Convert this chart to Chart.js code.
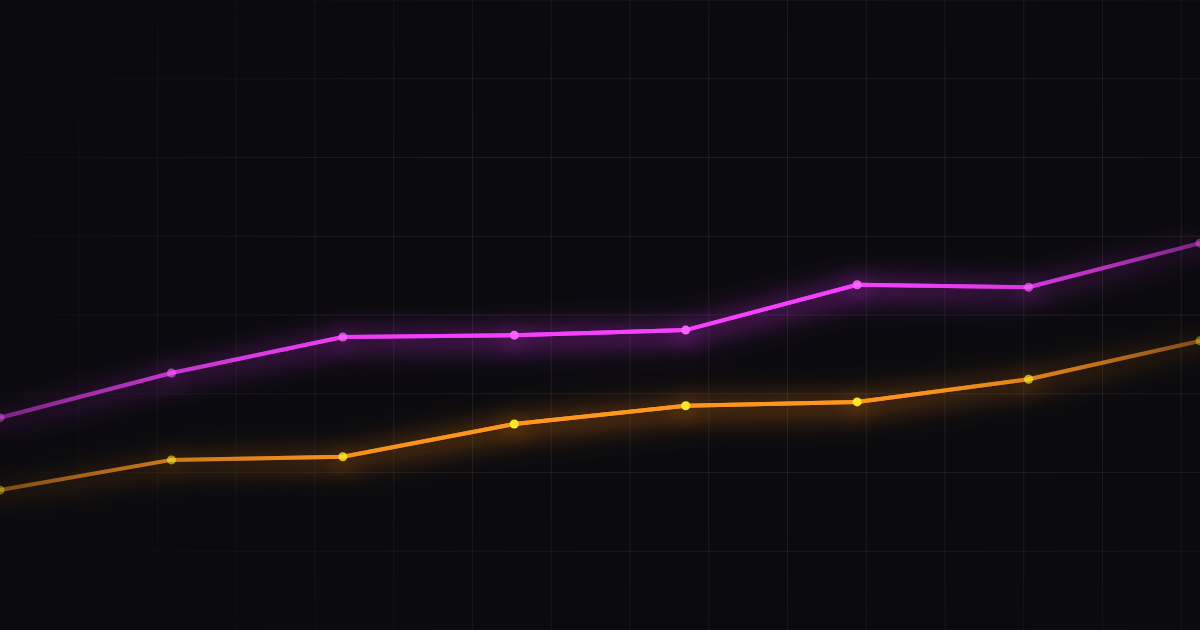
<!DOCTYPE html>
<html>
<head>
<meta charset="utf-8">
<script src="https://cdn.jsdelivr.net/npm/chart.js@4.4.1/dist/chart.umd.min.js"></script>
<style>
  html, body { margin: 0; padding: 0; background: #0b0b0f; width: 1200px; height: 630px; overflow: hidden; }
  #grid {
    position: absolute; left: 0; top: 0; width: 1200px; height: 630px;
    background-image:
      linear-gradient(to right, rgba(255,255,255,0.075) 1px, transparent 1px),
      linear-gradient(to bottom, rgba(255,255,255,0.075) 1px, transparent 1px);
    background-size: 78.75px 78.75px;
    background-position: -0.5px -0.5px;
    -webkit-mask-image: radial-gradient(ellipse 75% 85% at 65% 45%, #000 45%, transparent 100%);
    mask-image: radial-gradient(ellipse 75% 85% at 65% 45%, #000 45%, transparent 100%);
  }
  #wrap { position: absolute; left: 0; top: 0; width: 1200px; height: 630px; }
</style>
</head>
<body>
<div id="grid"></div>
<div id="wrap"><canvas id="c" width="1200" height="630"></canvas></div>
<script>
const categories = ["P1", "P2", "P3", "P4", "P5", "P6", "P7", "P8"];
const seriesMagenta = [33.7, 40.8, 46.5, 46.8, 47.6, 54.8, 54.4, 61.4];
const seriesOrange  = [22.2, 27.0, 27.5, 32.7, 35.6, 36.2, 39.8, 45.9];
const yMin = 0;
const yMax = 100;

function edgeGradient(chart, rgb, edge) {
  const a = chart.chartArea;
  if (!a) return 'rgb(' + rgb + ')';
  const g = chart.ctx.createLinearGradient(a.left, 0, a.right, 0);
  g.addColorStop(0, 'rgba(' + rgb + ',' + edge + ')');
  g.addColorStop(0.3, 'rgba(' + rgb + ',0.8)');
  g.addColorStop(0.45, 'rgba(' + rgb + ',1)');
  g.addColorStop(0.72, 'rgba(' + rgb + ',0.95)');
  g.addColorStop(1, 'rgba(' + rgb + ',' + edge + ')');
  return g;
}

const glowColors = ['rgba(235,50,255,1)', 'rgba(255,135,10,1)'];

const glowPlugin = {
  id: 'glow',
  beforeDatasetDraw(chart, args) {
    const ctx = chart.ctx;
    ctx.save();
    ctx.shadowColor = glowColors[args.index];
    ctx.shadowOffsetX = 0;
    ctx.shadowOffsetY = 4;
    ctx.shadowBlur = 36;
    args.meta.dataset.draw(ctx, chart.chartArea);
    ctx.shadowBlur = 22;
  },
  afterDatasetDraw(chart) {
    chart.ctx.restore();
  }
};

new Chart(document.getElementById('c'), {
  type: 'line',
  data: {
    labels: categories,
    datasets: [
      {
        data: seriesMagenta,
        borderColor: (c) => edgeGradient(c.chart, '245,64,255', 0.25),
        pointBackgroundColor: (c) => edgeGradient(c.chart, '250,100,255', 0.4),
        pointBorderWidth: 0,
        pointRadius: 4.5,
        borderWidth: 4,
        tension: 0,
        fill: false
      },
      {
        data: seriesOrange,
        borderColor: (c) => edgeGradient(c.chart, '255,150,30', 0.25),
        pointBackgroundColor: (c) => edgeGradient(c.chart, '255,235,40', 0.4),
        pointBorderWidth: 0,
        pointRadius: 4.5,
        borderWidth: 4,
        tension: 0,
        fill: false
      }
    ]
  },
  options: {
    responsive: false,
    animation: false,
    devicePixelRatio: 1,
    layout: { padding: 0, autoPadding: false },
    plugins: { legend: { display: false }, tooltip: { enabled: false } },
    scales: {
      x: { display: false, offset: false },
      y: { display: false, min: yMin, max: yMax }
    }
  },
  plugins: [glowPlugin]
});
</script>
</body>
</html>
